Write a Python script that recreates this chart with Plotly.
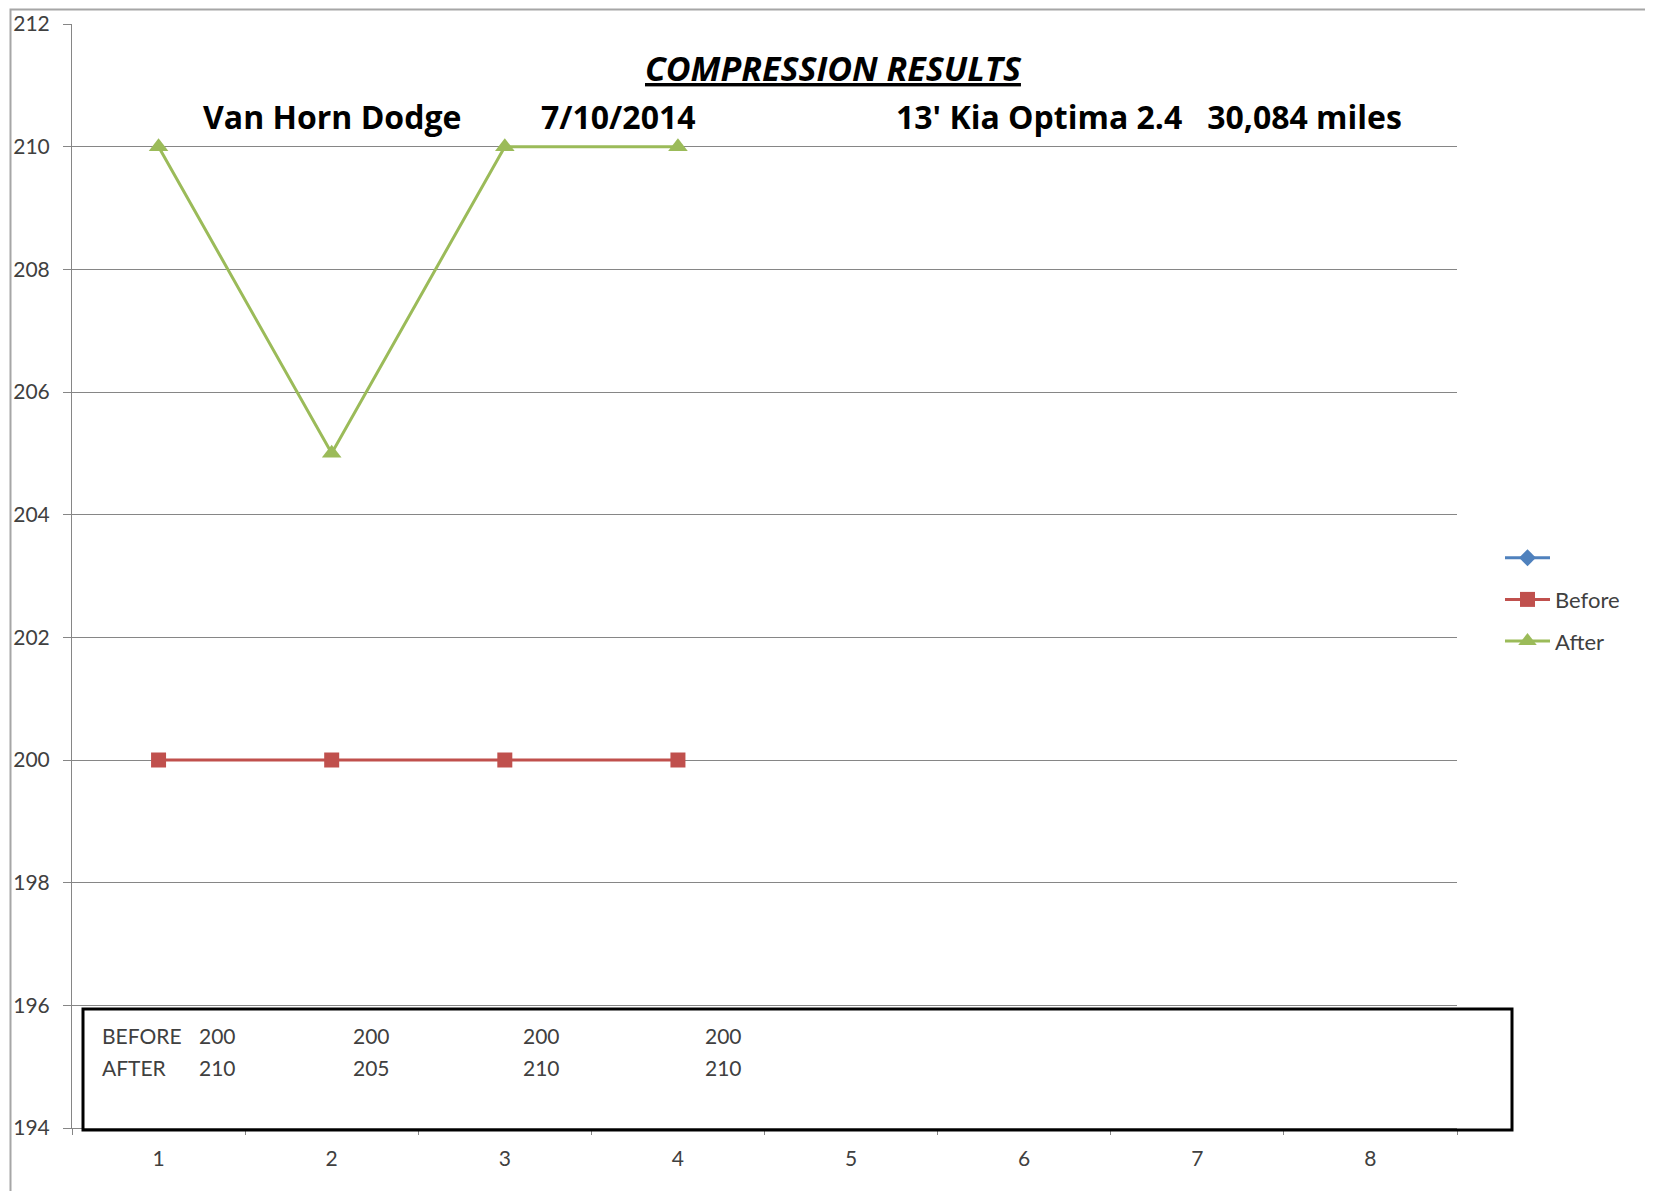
import plotly.graph_objects as go

cylinders = ["1", "2", "3", "4", "5", "6", "7", "8"]
before = [200, 200, 200, 200]
after = [210, 205, 210, 210]
y_ticks = [194, 196, 198, 200, 202, 204, 206, 208, 210, 212]

title_text = "COMPRESSION RESULTS"
dealer = "Van Horn Dodge"
date = "7/10/2014"
vehicle = "13' Kia Optima 2.4   30,084 miles"

FONT = "Lato, Carlito, Calibri, sans-serif"
HEAD_FONT = "Open Sans, Lato, sans-serif"
OFF = 8  # page body margin
W, H = 1653 - OFF, 1191 - OFF
# plot area in page pixels: x 72..1457, y 24..1128
L, T = 72 - OFF, 24 - OFF
R = W - (1457 - OFF)
B = H - (1128 - OFF)
PW, PH = W - L - R, H - T - B


def px(x):
    return (x - OFF - L) / PW


def py(y):
    return (H - B - (y - OFF)) / PH


fig = go.Figure()
fig.add_trace(go.Scatter(x=cylinders, y=[None] * len(cylinders), name=" ",
                         mode="lines+markers", legendgroup="a",
                         line=dict(color="#4F81BD", width=3),
                         marker=dict(symbol="diamond", size=13, color="#4F81BD")))
fig.add_trace(go.Scatter(x=cylinders[:len(before)], y=before, name="Before",
                         mode="lines+markers", legendgroup="b",
                         line=dict(color="#C0504D", width=3),
                         marker=dict(symbol="square", size=15, color="#C0504D")))
fig.add_trace(go.Scatter(x=cylinders[:len(after)], y=after, name="After",
                         mode="lines+markers", legendgroup="c",
                         line=dict(color="#9BBB59", width=3),
                         marker=dict(symbol="triangle-up", size=17, color="#9BBB59")))

annotations = [
    dict(text="<b><i><u>" + title_text + "</u></i></b>", x=px(833), y=py(68),
         font=dict(size=34, color="#000000", family=HEAD_FONT)),
    dict(text="<b>" + dealer + "</b>", x=px(332), y=py(116),
         font=dict(size=32, color="#000000", family=HEAD_FONT)),
    dict(text="<b>" + date + "</b>", x=px(618), y=py(116),
         font=dict(size=32, color="#000000", family=HEAD_FONT)),
    dict(text="<b>" + vehicle + "</b>", x=px(1149), y=py(116),
         font=dict(size=32, color="#000000", family=HEAD_FONT)),
    dict(text="BEFORE", x=px(100), y=py(1035), xanchor="left",
         font=dict(size=21, color="#404040")),
    dict(text="AFTER", x=px(100), y=py(1067), xanchor="left",
         font=dict(size=21, color="#404040")),
]
value_x = [217, 371, 541, 723]
for i, v in enumerate(before):
    annotations.append(dict(text=str(v), x=px(value_x[i]), y=py(1035),
                            font=dict(size=21, color="#404040")))
for i, v in enumerate(after):
    annotations.append(dict(text=str(v), x=px(value_x[i]), y=py(1067),
                            font=dict(size=21, color="#404040")))
for a in annotations:
    a.update(xref="paper", yref="paper", showarrow=False)
    a.setdefault("xanchor", "center")
    a["yanchor"] = "middle"

shapes = [
    dict(type="rect", xref="paper", yref="paper",
         x0=px(10.5), x1=px(1648), y0=py(1200), y1=py(9.5),
         line=dict(color="#A6A6A6", width=2), layer="below"),
    dict(type="rect", xref="paper", yref="paper",
         x0=px(83), x1=px(1512), y0=py(1130), y1=py(1009),
         line=dict(color="#000000", width=3), fillcolor="rgba(255,255,255,0)"),
]

fig.update_layout(
    width=W, height=H,
    margin=dict(l=L, r=R, t=T, b=B, autoexpand=False),
    paper_bgcolor="white", plot_bgcolor="white",
    font=dict(family=FONT, color="#404040"),
    showlegend=True,
    legend=dict(x=px(1500), y=py(537), xanchor="left", yanchor="top",
                font=dict(size=22, color="#404040"), tracegroupgap=10,
                itemwidth=45, bgcolor="rgba(0,0,0,0)"),
    annotations=annotations,
    shapes=shapes,
    xaxis=dict(type="category", categoryorder="array", categoryarray=cylinders,
               range=[-0.5, 7.5], tickson="boundaries", ticks="outside",
               ticklen=6, tickcolor="#868686", showgrid=False,
               showline=True, linecolor="#868686", linewidth=1,
               ticklabelstandoff=12, automargin=False,
               tickfont=dict(size=21, color="#404040"), zeroline=False),
    yaxis=dict(range=[194, 212], tickvals=y_ticks, ticks="outside",
               ticklen=8, tickcolor="#868686", showgrid=True,
               gridcolor="#868686", gridwidth=1, showline=True,
               linecolor="#868686", linewidth=1, zeroline=False,
               ticklabelstandoff=9, automargin=False,
               tickfont=dict(size=21, color="#404040")),
)

fig.write_html("out.html")
